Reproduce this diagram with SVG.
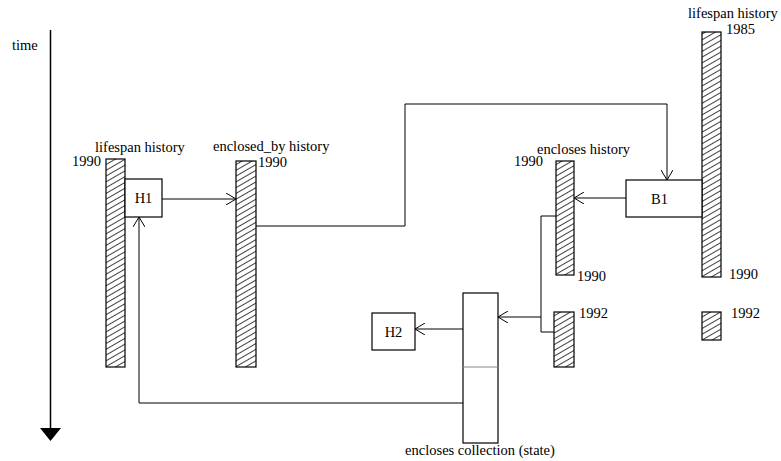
<svg xmlns="http://www.w3.org/2000/svg" width="781" height="461" viewBox="0 0 781 461">
<defs>
<pattern id="hatch" patternUnits="userSpaceOnUse" width="5" height="5" patternTransform="rotate(-30)">
<line x1="0" y1="0.5" x2="5" y2="0.5" stroke="#000" stroke-width="0.75"/>
</pattern>
<marker id="open" viewBox="0 0 10 12" refX="10" refY="6" markerWidth="10" markerHeight="12" markerUnits="userSpaceOnUse" orient="auto">
<path d="M0,0 L10,6 L0,12" fill="none" stroke="#000" stroke-width="1"/>
</marker>
</defs>
<style>
text{font-family:"Liberation Serif","Times New Roman","DejaVu Serif",serif;font-size:14.5px;fill:#000}
.bar{fill:url(#hatch);stroke:#000;stroke-width:1.2}
.box{fill:#fff;stroke:#000;stroke-width:1.2}
.c{fill:none;stroke:#000;stroke-width:1}
</style>
<g id="time-axis">
<line x1="50.5" y1="30" x2="50.5" y2="428" stroke="#000" stroke-width="1.5"/>
<polygon points="40,428 61,428 50.5,441" fill="#000"/>
<text x="12" y="50">time</text>
</g>
<g id="connectors">
<line class="c" x1="162" y1="199" x2="236" y2="199" marker-end="url(#open)"/>
<polyline class="c" points="256,226 405,226 405,104 667,104 667,180" marker-end="url(#open)"/>
<line class="c" x1="626" y1="198" x2="574" y2="198" marker-end="url(#open)"/>
<polyline class="c" points="556,216 541,216 541,332 554,332"/>
<line class="c" x1="541" y1="317" x2="498" y2="317" marker-end="url(#open)"/>
<line class="c" x1="463" y1="329" x2="415" y2="329" marker-end="url(#open)"/>
<polyline class="c" points="463,403 139,403 139,217" marker-end="url(#open)"/>
</g>
<g id="lifespan-left">
<rect class="bar" x="106" y="159" width="19" height="208"/>
<text x="95" y="152">lifespan history</text>
<text x="72" y="166">1990</text>
</g>
<g id="H1">
<rect class="box" x="125" y="179" width="37" height="38"/>
<text x="143.5" y="203" text-anchor="middle">H1</text>
</g>
<g id="enclosed-by">
<rect class="bar" x="236" y="161" width="20" height="206"/>
<text x="213" y="151">enclosed_by history</text>
<text x="258" y="167">1990</text>
</g>
<g id="encloses-history">
<rect class="bar" x="556" y="161" width="18" height="114"/>
<rect class="bar" x="554" y="312" width="20" height="55"/>
<text x="537" y="154">encloses history</text>
<text x="514" y="166">1990</text>
<text x="577" y="281">1990</text>
<text x="579" y="318">1992</text>
</g>
<g id="lifespan-right">
<rect class="bar" x="702" y="32" width="19" height="245"/>
<rect class="bar" x="702" y="312" width="19" height="28"/>
<text x="688" y="18">lifespan history</text>
<text x="726" y="34">1985</text>
<text x="729" y="279">1990</text>
<text x="731" y="318">1992</text>
</g>
<g id="B1">
<rect class="box" x="626" y="180" width="76" height="37"/>
<text x="651" y="204">B1</text>
</g>
<g id="collection">
<rect class="box" x="463" y="293" width="35" height="150"/>
<line x1="463" y1="367" x2="498" y2="367" stroke="#888" stroke-width="1"/>
<text x="480" y="455" text-anchor="middle">encloses collection (state)</text>
</g>
<g id="H2">
<rect class="box" x="372" y="313" width="43" height="37"/>
<text x="393.5" y="337" text-anchor="middle">H2</text>
</g>
</svg>
